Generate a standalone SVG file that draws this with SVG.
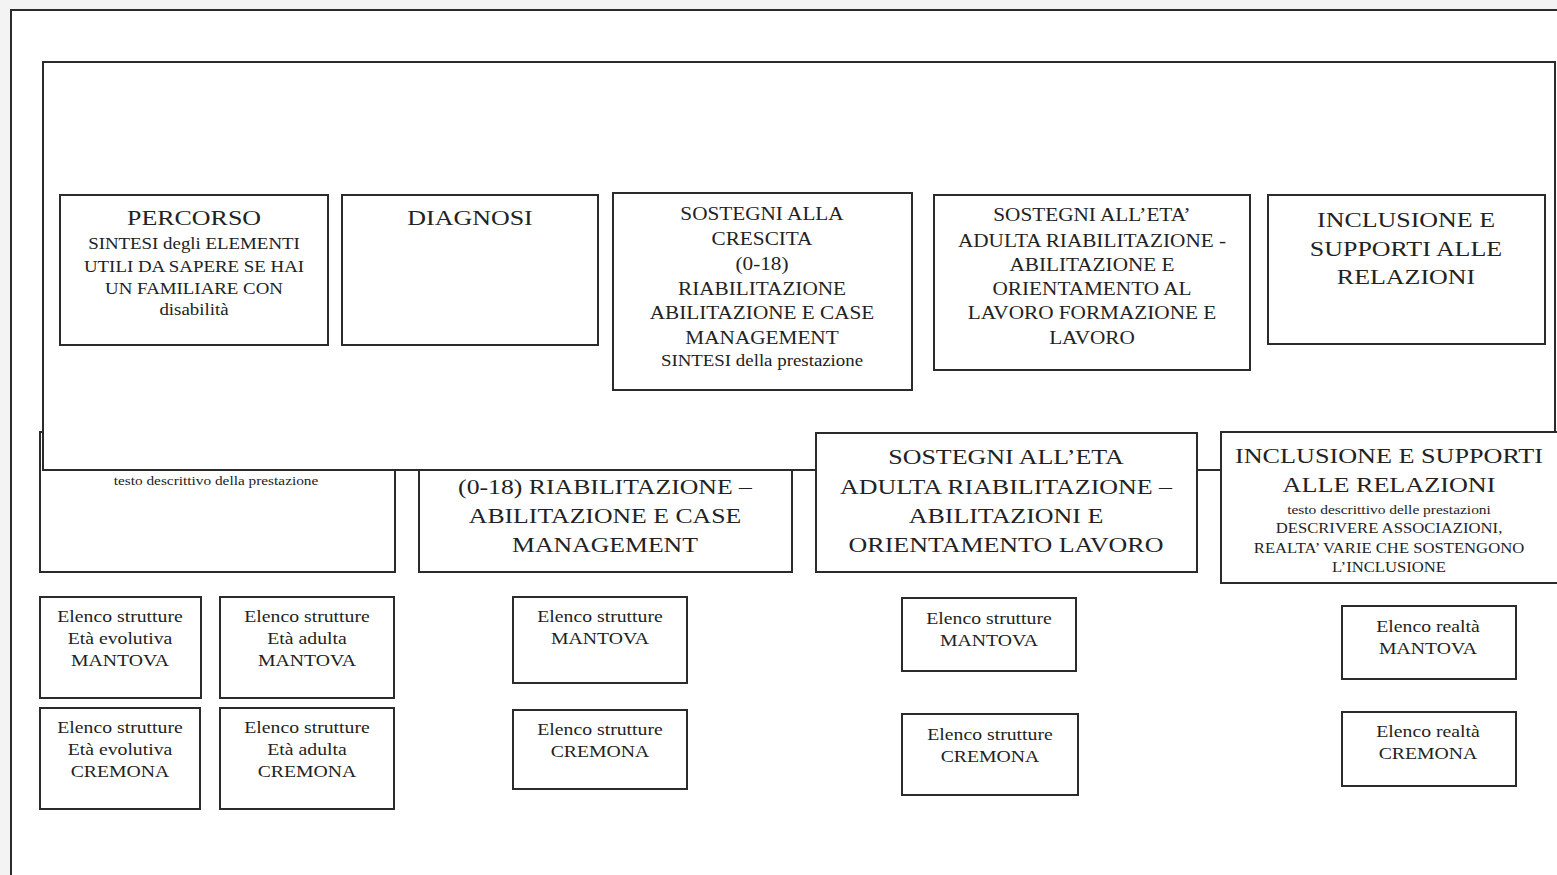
<svg xmlns="http://www.w3.org/2000/svg" width="1557" height="875" viewBox="0 0 1557 875">
<style>
.box{fill:#fff;stroke:#2b2b2b;stroke-width:2}
text{font-family:"Liberation Serif","Times New Roman",serif;fill:#222;text-anchor:middle}
.t22{font-size:22px}
.t18{font-size:18px}
.t16{font-size:16px}
.t17{font-size:17px}
.t14{font-size:14px}
.t13{font-size:13px}
</style>
<rect x="0" y="0" width="1557" height="875" fill="#f3f3f3"/>
<rect x="11" y="10" width="1560" height="880" fill="#fff" stroke="#2b2b2b" stroke-width="2"/>

<g id="mid-a"><rect class="box" x="40" y="432" width="355" height="140"/>
<g transform="translate(216 0) scale(1.18 1)"><text class="t13" x="0" y="485">testo descrittivo della prestazione</text></g></g>
<g id="mid-b"><rect class="box" x="419" y="440" width="373" height="132"/>
<g transform="translate(605 0) scale(1.17 1)">
<text class="t22" x="0" y="494">(0-18) RIABILITAZIONE –</text>
<text class="t22" x="0" y="523">ABILITAZIONE  E CASE</text>
<text class="t22" x="0" y="552">MANAGEMENT</text></g></g>

<g id="frame"><rect class="box" x="43" y="62" width="1512" height="408"/></g>

<g id="mid-c"><rect class="box" x="816" y="433" width="381" height="139"/>
<g transform="translate(1006 0) scale(1.18 1)">
<text class="t22" x="0" y="464">SOSTEGNI ALL’ETA</text>
<text class="t22" x="0" y="494">ADULTA RIABILITAZIONE –</text>
<text class="t22" x="0" y="523">ABILITAZIONI  E</text>
<text class="t22" x="0" y="552">ORIENTAMENTO  LAVORO</text></g></g>
<g id="mid-d"><rect class="box" x="1221" y="432" width="345" height="151"/>
<g transform="translate(1389 0) scale(1.19 1)">
<text class="t22" x="0" y="463">INCLUSIONE  E SUPPORTI</text>
<text class="t22" x="0" y="492">ALLE RELAZIONI</text>
<text class="t13" x="0" y="514">testo descrittivo delle  prestazioni</text>
<text class="t14" x="0" y="533">DESCRIVERE ASSOCIAZIONI,</text>
<text class="t14" x="0" y="553">REALTA’ VARIE CHE SOSTENGONO</text>
<text class="t14" x="0" y="572">L’INCLUSIONE</text></g></g>

<g id="percorso"><rect class="box" x="60" y="195" width="268" height="150"/>
<g transform="translate(194 0) scale(1.18 1)">
<text class="t22" x="0" y="225">PERCORSO</text>
<text class="t16" x="0" y="249">SINTESI degli ELEMENTI</text>
<text class="t16" x="0" y="272">UTILI DA SAPERE SE HAI</text>
<text class="t16" x="0" y="294">UN FAMILIARE CON</text>
<text class="t16" x="0" y="315">disabilità</text></g></g>
<g id="diagnosi"><rect class="box" x="342" y="195" width="256" height="150"/>
<g transform="translate(470 0) scale(1.18 1)"><text class="t22" x="0" y="225">DIAGNOSI</text></g></g>
<g id="crescita"><rect class="box" x="613" y="193" width="299" height="197"/>
<g transform="translate(762 0) scale(1.18 1)">
<text class="t18" x="0" y="220">SOSTEGNI ALLA</text>
<text class="t18" x="0" y="245">CRESCITA</text>
<text class="t18" x="0" y="270">(0-18)</text>
<text class="t18" x="0" y="295">RIABILITAZIONE</text>
<text class="t18" x="0" y="319">ABILITAZIONE E CASE</text>
<text class="t18" x="0" y="344">MANAGEMENT</text>
<text class="t16" x="0" y="366">SINTESI della prestazione</text></g></g>
<g id="adulta"><rect class="box" x="934" y="195" width="316" height="175"/>
<g transform="translate(1092 0) scale(1.18 1)">
<text class="t18" x="0" y="221">SOSTEGNI ALL’ETA’</text>
<text class="t18" x="0" y="247">ADULTA RIABILITAZIONE -</text>
<text class="t18" x="0" y="271">ABILITAZIONE E</text>
<text class="t18" x="0" y="295">ORIENTAMENTO AL</text>
<text class="t18" x="0" y="319">LAVORO FORMAZIONE E</text>
<text class="t18" x="0" y="344">LAVORO</text></g></g>
<g id="inclusione"><rect class="box" x="1268" y="195" width="277" height="149"/>
<g transform="translate(1406 0) scale(1.18 1)">
<text class="t22" x="0" y="227">INCLUSIONE  E</text>
<text class="t22" x="0" y="256">SUPPORTI ALLE</text>
<text class="t22" x="0" y="284">RELAZIONI</text></g></g>

<g id="ev-mn"><rect class="box" x="40" y="597" width="161" height="101"/>
<g transform="translate(120 0) scale(1.16 1)">
<text class="t17" x="0" y="622">Elenco strutture</text>
<text class="t17" x="0" y="644">Età evolutiva</text>
<text class="t17" x="0" y="666">MANTOVA</text></g></g>
<g id="ad-mn"><rect class="box" x="220" y="597" width="174" height="101"/>
<g transform="translate(307 0) scale(1.16 1)">
<text class="t17" x="0" y="622">Elenco strutture</text>
<text class="t17" x="0" y="644">Età adulta</text>
<text class="t17" x="0" y="666">MANTOVA</text></g></g>
<g id="ev-cr"><rect class="box" x="40" y="708" width="160" height="101"/>
<g transform="translate(120 0) scale(1.16 1)">
<text class="t17" x="0" y="733">Elenco strutture</text>
<text class="t17" x="0" y="755">Età evolutiva</text>
<text class="t17" x="0" y="777">CREMONA</text></g></g>
<g id="ad-cr"><rect class="box" x="220" y="708" width="174" height="101"/>
<g transform="translate(307 0) scale(1.16 1)">
<text class="t17" x="0" y="733">Elenco strutture</text>
<text class="t17" x="0" y="755">Età adulta</text>
<text class="t17" x="0" y="777">CREMONA</text></g></g>
<g id="cr-mn"><rect class="box" x="513" y="597" width="174" height="86"/>
<g transform="translate(600 0) scale(1.16 1)">
<text class="t17" x="0" y="622">Elenco strutture</text>
<text class="t17" x="0" y="644">MANTOVA</text></g></g>
<g id="cr-cr"><rect class="box" x="513" y="710" width="174" height="79"/>
<g transform="translate(600 0) scale(1.16 1)">
<text class="t17" x="0" y="735">Elenco strutture</text>
<text class="t17" x="0" y="757">CREMONA</text></g></g>
<g id="la-mn"><rect class="box" x="902" y="598" width="174" height="73"/>
<g transform="translate(989 0) scale(1.16 1)">
<text class="t17" x="0" y="624">Elenco strutture</text>
<text class="t17" x="0" y="646">MANTOVA</text></g></g>
<g id="la-cr"><rect class="box" x="902" y="714" width="176" height="81"/>
<g transform="translate(990 0) scale(1.16 1)">
<text class="t17" x="0" y="740">Elenco strutture</text>
<text class="t17" x="0" y="762">CREMONA</text></g></g>
<g id="re-mn"><rect class="box" x="1342" y="606" width="174" height="73"/>
<g transform="translate(1428 0) scale(1.16 1)">
<text class="t17" x="0" y="632">Elenco realtà</text>
<text class="t17" x="0" y="654">MANTOVA</text></g></g>
<g id="re-cr"><rect class="box" x="1342" y="712" width="174" height="74"/>
<g transform="translate(1428 0) scale(1.16 1)">
<text class="t17" x="0" y="737">Elenco realtà</text>
<text class="t17" x="0" y="759">CREMONA</text></g></g>

<g id="connectors"></g>
</svg>
